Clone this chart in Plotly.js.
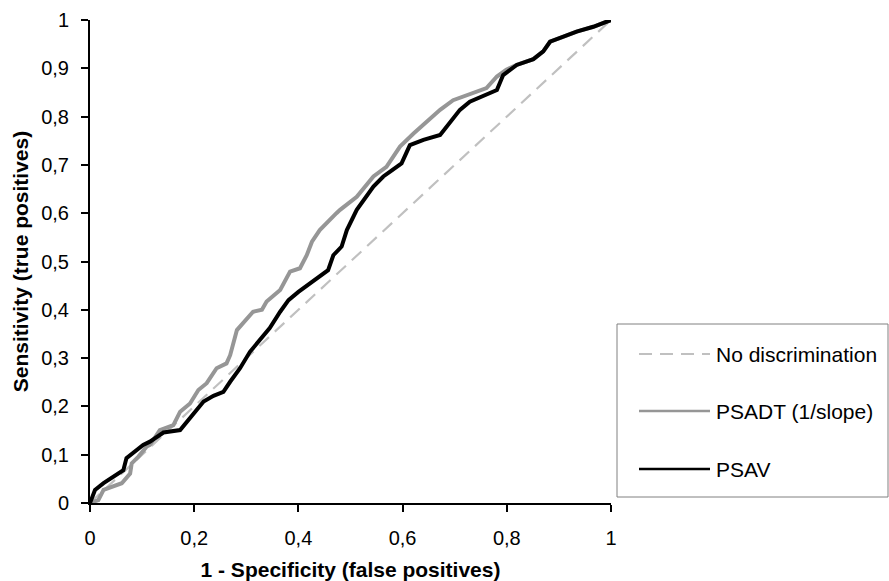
<!DOCTYPE html>
<html><head><meta charset="utf-8">
<script src="https://cdn.plot.ly/plotly-3.0.1.min.js"></script>
<style>html,body{margin:0;padding:0;background:#fff}#chart{width:889px;height:581px}</style>
</head><body><div id="chart"></div>
<script>
const diagX = [0, 1];
const diagY = [0, 1];
const psadtX = [0,0.016,0.026,0.045,0.061,0.077,0.080,0.093,0.109,0.115,0.134,0.160,0.173,0.192,0.208,0.224,0.243,0.262,0.269,0.282,0.298,0.313,0.330,0.339,0.365,0.384,0.403,0.416,0.426,0.441,0.473,0.480,0.512,0.544,0.569,0.595,0.621,0.646,0.672,0.697,0.736,0.761,0.781,0.799,0.819,0.851,0.870,0.883,0.908,0.934,0.966,1];
const psadtY = [0,0.006,0.027,0.034,0.041,0.061,0.082,0.096,0.117,0.120,0.151,0.161,0.189,0.206,0.234,0.248,0.279,0.289,0.306,0.358,0.379,0.396,0.400,0.417,0.441,0.479,0.486,0.513,0.541,0.565,0.600,0.607,0.634,0.676,0.696,0.738,0.765,0.789,0.814,0.834,0.848,0.859,0.883,0.897,0.907,0.919,0.935,0.955,0.965,0.976,0.986,1];
const psavX = [0,0.0096,0.026,0.045,0.051,0.064,0.070,0.086,0.102,0.115,0.141,0.173,0.186,0.205,0.218,0.237,0.256,0.269,0.288,0.307,0.330,0.345,0.365,0.381,0.400,0.422,0.441,0.457,0.467,0.483,0.493,0.512,0.544,0.563,0.576,0.598,0.614,0.640,0.672,0.685,0.710,0.729,0.761,0.781,0.793,0.819,0.851,0.870,0.883,0.908,0.934,0.966,1];
const psavY = [0,0.027,0.041,0.054,0.058,0.068,0.093,0.106,0.120,0.127,0.146,0.151,0.168,0.193,0.210,0.222,0.230,0.251,0.279,0.313,0.341,0.362,0.396,0.420,0.437,0.455,0.469,0.482,0.513,0.531,0.565,0.607,0.655,0.676,0.686,0.703,0.741,0.752,0.762,0.779,0.814,0.831,0.845,0.855,0.886,0.907,0.919,0.935,0.955,0.965,0.976,0.986,1];
const seriesNames = ['No discrimination', 'PSADT (1/slope)', 'PSAV'];
const xTitle = '1 - Specificity (false positives)';
const yTitle = 'Sensitivity (true positives)';

const colors = ['#c0c0c0', '#969696', '#000000'];
const FONT = 'Liberation Sans, Arial, sans-serif';

const traces = [
  {x: diagX, y: diagY, mode: 'lines', name: seriesNames[0], line: {color: colors[0], width: 2.2, dash: '13px,8px'}, showlegend: false},
  {x: psadtX, y: psadtY, mode: 'lines', name: seriesNames[1], line: {color: colors[1], width: 4}, showlegend: false},
  {x: psavX, y: psavY, mode: 'lines', name: seriesNames[2], line: {color: colors[2], width: 4}, showlegend: false}
];

// manual legend (paper coordinates)
const PL = 90, PR = 611, PT = 20, PB = 503;
const px2x = p => (p - PL) / (PR - PL);
const py2y = p => (PB - p) / (PB - PT);
const rows = [354, 411, 469];
const shapes = [
  {type: 'rect', xref: 'paper', yref: 'paper', x0: px2x(617), x1: px2x(888), y0: py2y(497), y1: py2y(324), line: {color: '#808080', width: 1}, fillcolor: 'rgba(0,0,0,0)'}
];
const annotations = [];
rows.forEach((r, i) => {
  shapes.push({type: 'line', xref: 'paper', yref: 'paper', x0: px2x(639), x1: px2x(710), y0: py2y(r), y1: py2y(r),
    line: {color: colors[i], width: i === 0 ? 2.2 : 2.5, dash: i === 0 ? '13px,8px' : 'solid'}});
  annotations.push({xref: 'paper', yref: 'paper', x: px2x(714), y: py2y(r), xanchor: 'left', yanchor: 'middle',
    text: seriesNames[i], showarrow: false, font: {family: FONT, size: 21, color: '#000'}});
});

const layout = {
  width: 889, height: 581,
  margin: {l: PL, r: 889 - PR, t: PT, b: 581 - PB},
  paper_bgcolor: '#fff', plot_bgcolor: '#fff',
  separators: ', ',
  font: {family: FONT, size: 20, color: '#000'},
  showlegend: false,
  xaxis: {range: [0, 1], dtick: 0.2, tick0: 0, showgrid: false, zeroline: false,
    showline: true, linecolor: '#000', linewidth: 2, ticks: 'outside', ticklen: 7, tickwidth: 2, tickcolor: '#000',
    ticklabelstandoff: 9, tickfont: {size: 20},
    title: {text: '<b>' + xTitle + '</b>', font: {family: FONT, size: 21}, standoff: 14}},
  yaxis: {range: [0, 1], dtick: 0.1, tick0: 0, showgrid: false, zeroline: false,
    showline: true, linecolor: '#000', linewidth: 2, ticks: 'outside', ticklen: 7, tickwidth: 2, tickcolor: '#000',
    ticklabelstandoff: 8, tickfont: {size: 20},
    title: {text: '<b>' + yTitle + '</b>', font: {family: FONT, size: 21}, standoff: 7}},
  shapes: shapes,
  annotations: annotations
};

Plotly.newPlot('chart', traces, layout, {staticPlot: true, displayModeBar: false});
</script>
</body></html>
